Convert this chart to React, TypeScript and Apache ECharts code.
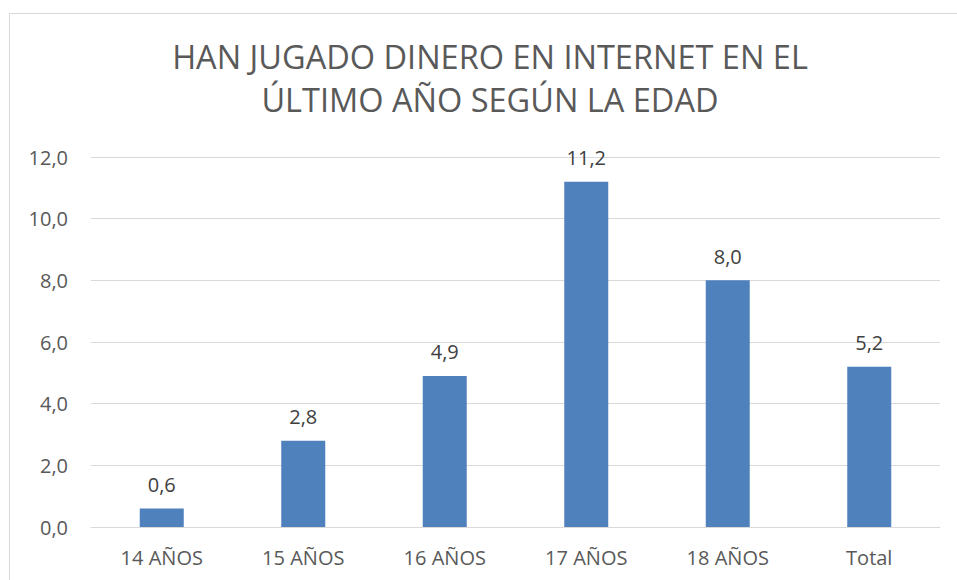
import React, { useEffect, useRef } from "react";
import * as echarts from "echarts";

const titleLines = ["HAN JUGADO DINERO EN INTERNET EN EL", "ÚLTIMO AÑO SEGÚN LA EDAD"];
const categories = ["14 AÑOS", "15 AÑOS", "16 AÑOS", "17 AÑOS", "18 AÑOS", "Total"];
const values = [0.6, 2.8, 4.9, 11.2, 8.0, 5.2];
const yMin = 0;
const yMax = 12;
const yInterval = 2;

const fmt = (v: number) => v.toFixed(1).replace(".", ",");

export default function App() {
  const ref = useRef<HTMLDivElement>(null);
  useEffect(() => {
    if (!ref.current) return;
    const chart = echarts.init(ref.current, undefined, { renderer: "svg" });
    const font = "'Open Sans', sans-serif";
    chart.setOption({
      animation: false,
      backgroundColor: "#ffffff",
      graphic: [
        {
          type: "rect",
          shape: { x: 9.5, y: 13.5, width: 1000, height: 700 },
          style: { fill: "none", stroke: "#d9d9d9", lineWidth: 1 },
          silent: true,
          z: -10,
        },
      ],
      title: {
        text: titleLines.join("\n"),
        left: 485,
        top: 30,
        textAlign: "center",
        textStyle: {
          fontFamily: font,
          fontSize: 32.5,
          fontWeight: "normal",
          color: "#595959",
          lineHeight: 43,
        },
      },
      grid: { left: 91, right: 17, top: 157, bottom: 53, containLabel: false },
      xAxis: {
        type: "category",
        data: categories,
        axisLine: { show: true, lineStyle: { color: "#d9d9d9", width: 1 } },
        axisTick: { show: false },
        axisLabel: {
          fontFamily: font,
          fontSize: 20,
          color: "#595959",
          margin: 20,
          interval: 0,
        },
      },
      yAxis: {
        type: "value",
        min: yMin,
        max: yMax,
        interval: yInterval,
        axisLine: { show: false },
        axisTick: { show: false },
        splitLine: { show: true, lineStyle: { color: "#d9d9d9", width: 1 } },
        axisLabel: {
          fontFamily: font,
          fontSize: 20,
          color: "#595959",
          margin: 23,
          formatter: (v: number) => fmt(v),
        },
      },
      series: [
        {
          type: "bar",
          data: values,
          barWidth: 44,
          itemStyle: { color: "#4f81bd" },
          label: {
            show: true,
            position: "top",
            distance: 14,
            fontFamily: font,
            fontSize: 20,
            color: "#404040",
            formatter: (p: any) => fmt(p.value),
          },
        },
      ],
    });
    return () => chart.dispose();
  }, []);
  return (
    <div
      ref={ref}
      style={{ position: "absolute", left: 0, top: 0, width: 957, height: 580 }}
    />
  );
}
